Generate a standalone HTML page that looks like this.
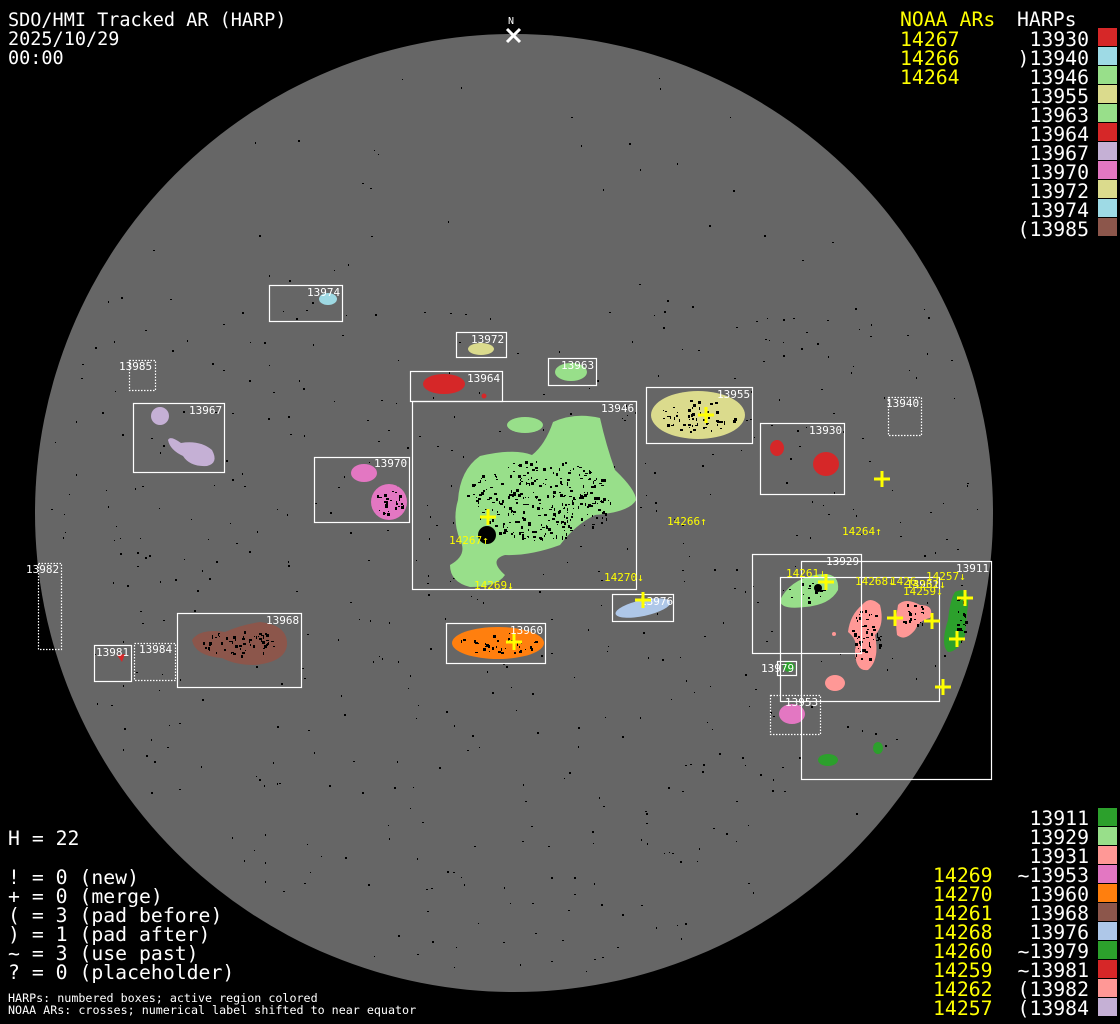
<!DOCTYPE html>
<html><head><meta charset="utf-8"><style>
html,body{margin:0;padding:0;background:#000;width:1120px;height:1024px;overflow:hidden}
svg{display:block}
text{font-family:"DejaVu Sans Mono","Liberation Mono",monospace}
.t{fill:#fff;font-size:18.5px}
.L{fill:#fff;font-size:19.8px}
.y{fill:#ff0;font-size:19.8px}
.b{fill:#fff;font-size:11px}
.s{fill:#fff;font-size:11.7px}
.yl{fill:#ff0;font-size:11px}
.bx{fill:none;stroke:#fff;stroke-width:1.2}
.dt{fill:none;stroke:#fff;stroke-width:1.2;stroke-dasharray:1.5 1.5}
.cr{stroke:#ff0;stroke-width:3;fill:none}
</style></head><body>
<svg id="s" width="1120" height="1024" viewBox="0 0 1120 1024" xmlns="http://www.w3.org/2000/svg">
<rect width="1120" height="1024" fill="#000"/>
<circle cx="514" cy="513" r="479" fill="#666"/>
<g id="spk"></g>
<!-- blobs -->
<ellipse cx="328" cy="299" rx="9" ry="6" fill="#9ed9e3"/>
<ellipse cx="481" cy="349" rx="13" ry="6" fill="#dbdb8d"/>
<ellipse cx="571" cy="372" rx="16" ry="9" fill="#98df8a"/>
<ellipse cx="444" cy="384" rx="21" ry="10" fill="#d62728"/>
<circle cx="484" cy="396" r="2.5" fill="#d62728"/>
<ellipse cx="160" cy="416" rx="9" ry="9" fill="#c5b0d5"/>
<path d="M168,440 Q170,435 181,443 Q200,440 212,450 Q219,463 207,466 Q190,467 183,456 Q170,450 168,440Z" fill="#c5b0d5"/>
<path d="M553,422 Q575,412 600,418 Q606,445 615,470 Q636,490 636,500 Q630,512 595,515 Q575,525 560,545 Q530,556 505,555 Q488,560 505,575 Q497,587 470,587 Q450,582 450,565 Q468,555 460,540 Q452,520 458,500 Q460,470 480,456 Q515,448 532,455 Q545,445 553,422Z" fill="#98df8a"/>
<ellipse cx="525" cy="425" rx="18" ry="8" fill="#98df8a"/>
<circle cx="487" cy="535" r="9" fill="#000"/>
<ellipse cx="698" cy="415" rx="47" ry="24" fill="#dbdb8d"/>
<ellipse cx="777" cy="448" rx="7" ry="8" fill="#d62728"/>
<ellipse cx="826" cy="464" rx="13" ry="12" fill="#d62728"/>
<ellipse cx="364" cy="473" rx="13" ry="9" fill="#e377c2"/>
<ellipse cx="389" cy="502" rx="18" ry="18" fill="#e377c2"/>
<path d="M192,640 Q200,628 225,632 Q240,625 260,622 Q288,625 287,645 Q285,662 255,665 Q235,665 222,658 Q195,656 192,640Z" fill="#8c564b"/>
<path d="M117,655 L125,654 L122,662Z" fill="#d62728"/>
<ellipse cx="498" cy="643" rx="46" ry="16" fill="#ff7f0e"/>
<ellipse cx="643" cy="608" rx="28" ry="8" fill="#aec7e8" transform="rotate(-12 643 608)"/>
<path d="M780,600 Q790,580 815,575 Q840,570 838,590 Q830,605 805,607 Q780,610 780,600Z" fill="#98df8a"/>
<circle cx="818" cy="588" r="4" fill="#000"/>
<path d="M862,605 Q870,595 880,605 Q885,625 875,635 Q880,660 868,670 Q855,672 855,650 Q858,640 848,632 Q850,615 862,605Z" fill="#ff9896"/>
<path d="M898,605 Q905,597 920,605 Q935,605 930,618 Q920,620 915,630 Q905,642 897,635 Q895,620 898,605Z" fill="#ff9896"/>
<ellipse cx="835" cy="683" rx="10" ry="8" fill="#ff9896"/>
<circle cx="834" cy="634" r="2" fill="#ff9896"/>
<path d="M955,592 Q970,585 968,605 Q966,620 965,635 Q958,652 948,652 Q940,645 948,620 Q950,600 955,592Z" fill="#2ca02c"/>
<ellipse cx="792" cy="714" rx="13" ry="10" fill="#e377c2"/>
<ellipse cx="828" cy="760" rx="10" ry="6" fill="#2ca02c"/>
<ellipse cx="878" cy="748" rx="5" ry="6" fill="#2ca02c"/>
<ellipse cx="789" cy="667" rx="6" ry="5" fill="#2ca02c"/>
<g id="spk2"></g>
<!-- boxes -->
<rect class="bx" x="269.5" y="285.5" width="73" height="36"/>
<rect class="bx" x="456.5" y="332.5" width="50" height="25"/>
<rect class="bx" x="548.5" y="358.5" width="48" height="27"/>
<rect class="bx" x="410.5" y="371.5" width="92" height="30"/>
<rect class="dt" x="129.5" y="360.5" width="26" height="30"/>
<rect class="bx" x="133.5" y="403.5" width="91" height="69"/>
<rect class="bx" x="412.5" y="401.5" width="224" height="188"/>
<rect class="bx" x="646.5" y="387.5" width="106" height="56"/>
<rect class="bx" x="760.5" y="423.5" width="84" height="71"/>
<rect class="dt" x="888.5" y="397.5" width="33" height="38"/>
<rect class="bx" x="314.5" y="457.5" width="95" height="65"/>
<rect class="dt" x="38.5" y="563.5" width="23" height="86"/>
<rect class="bx" x="177.5" y="613.5" width="124" height="74"/>
<rect class="bx" x="94.5" y="645.5" width="37" height="36"/>
<rect class="dt" x="134.5" y="643.5" width="41" height="37"/>
<rect class="bx" x="446.5" y="623.5" width="99" height="40"/>
<rect class="bx" x="612.5" y="594.5" width="61" height="27"/>
<rect class="bx" x="752.5" y="554.5" width="109" height="99"/>
<rect class="bx" x="801.5" y="561.5" width="190" height="218"/>
<rect class="bx" x="780.5" y="577.5" width="159" height="124"/>
<rect class="bx" x="777.5" y="661.5" width="19" height="14"/>
<rect class="dt" x="770.5" y="695.5" width="50" height="39"/>
<!-- box labels -->
<g>
<text x="307" y="296" class="b">13974</text>
<text x="471" y="343" class="b">13972</text>
<text x="561" y="369" class="b">13963</text>
<text x="467" y="382" class="b">13964</text>
<text x="119" y="370" class="b">13985</text>
<text x="189" y="414" class="b">13967</text>
<text x="601" y="412" class="b">13946</text>
<text x="717" y="398" class="b">13955</text>
<text x="809" y="434" class="b">13930</text>
<text x="886" y="407" class="b">13940</text>
<text x="374" y="467" class="b">13970</text>
<text x="26" y="573" class="b">13982</text>
<text x="266" y="624" class="b">13968</text>
<text x="96" y="656" class="b">13981</text>
<text x="139" y="653" class="b">13984</text>
<text x="510" y="634" class="b">13960</text>
<text x="640" y="605" class="b">13976</text>
<text x="826" y="565" class="b">13929</text>
<text x="956" y="572" class="b">13911</text>
<text x="906" y="588" class="b">13931</text>
<text x="761" y="672" class="b">13979</text>
<text x="785" y="706" class="b">13953</text>
</g>
<g class="cr" id="crs"></g>
<g>
<text x="667" y="525" class="yl">14266↑</text>
<text x="842" y="535" class="yl">14264↑</text>
<text x="449" y="544" class="yl">14267↑</text>
<text x="474" y="589" class="yl">14269↓</text>
<text x="604" y="581" class="yl">14270↓</text>
<text x="786" y="577" class="yl">14261↓</text>
<text x="855" y="585" class="yl">14268↓</text>
<text x="890" y="585" class="yl">1426</text>
<text x="926" y="580" class="yl">14257↓</text>
<text x="906" y="588" class="yl">14262↓</text>
<text x="903" y="595" class="yl">14259↓</text>
</g>
<text x="508" y="24" class="b" style="font-size:10px">N</text>
<path d="M507,29 L520,42 M520,29 L507,42" stroke="#fff" stroke-width="3"/>
<text x="8" y="26" class="t">SDO/HMI Tracked AR (HARP)</text>
<text x="8" y="45" class="t">2025/10/29</text>
<text x="8" y="64" class="t">00:00</text>
<text x="900" y="26" class="y">NOAA ARs</text>
<text x="1017" y="26" class="L">HARPs</text>
<text x="900" y="46" class="y">14267</text>
<text x="900" y="65" class="y">14266</text>
<text x="900" y="84" class="y">14264</text>
<g id="tr"></g>
<g id="br"></g>
<text x="8" y="845" class="L">H = 22</text>
<text x="8" y="884" class="L">! = 0 (new)</text>
<text x="8" y="903" class="L">+ = 0 (merge)</text>
<text x="8" y="922" class="L">( = 3 (pad before)</text>
<text x="8" y="941" class="L">) = 1 (pad after)</text>
<text x="8" y="960" class="L">~ = 3 (use past)</text>
<text x="8" y="979" class="L">? = 0 (placeholder)</text>
<text x="8" y="1002" class="s">HARPs: numbered boxes; active region colored</text>
<text x="8" y="1014" class="s">NOAA ARs: crosses; numerical label shifted to near equator</text>
</svg>
<script>
(function(){
var NS="http://www.w3.org/2000/svg";
function el(p,tag,a,txt){var e=document.createElementNS(NS,tag);for(var k in a)e.setAttribute(k,a[k]);if(txt!=null)e.textContent=txt;p.appendChild(e);return e;}
var seed=12345;function r(){seed=(seed*1103515245+12345)%2147483648;return seed/2147483648;}
var g=document.getElementById('spk');
for(var i=0;i<900;i++){var x=35+r()*958,y=35+r()*958;var dx=x-514,dy=y-513;if(dx*dx+dy*dy>465*465)continue;
if(y<300&&r()<0.7)continue;
el(g,'rect',{x:x.toFixed(0),y:y.toFixed(0),width:(1+Math.floor(r()*2)),height:(1+Math.floor(r()*2)),fill:'#000'});}
var g2=document.getElementById('spk2');
var regs=[[540,500,75,40,300],[698,415,38,17,60],[240,643,38,13,60],[498,643,38,11,40],[389,502,14,14,25],[866,635,14,28,50],[912,615,14,12,20],[960,620,6,25,20],[810,592,22,10,15]];
regs.forEach(function(q){for(var i=0;i<q[4];i++){var a=r()*6.283,d=Math.sqrt(r());el(g2,'rect',{x:(q[0]+Math.cos(a)*d*q[2]).toFixed(0),y:(q[1]+Math.sin(a)*d*q[3]).toFixed(0),width:1+Math.floor(r()*3),height:1+Math.floor(r()*3),fill:'#000'});}});
var cr=document.getElementById('crs');
[[706,415],[882,479],[488,517],[514,642],[643,600],[826,582],[895,618],[932,621],[965,598],[957,639],[943,687]].forEach(function(p){
el(cr,'path',{d:'M'+(p[0]-8)+','+p[1]+'h16M'+p[0]+','+(p[1]-8)+'v16'});});
var tr=document.getElementById('tr');
var T=[["13930","#d62728"],[")13940","#9edae5"],["13946","#98df8a"],["13955","#dbdb8d"],["13963","#98df8a"],["13964","#d62728"],["13967","#c5b0d5"],["13970","#e377c2"],["13972","#dbdb8d"],["13974","#9edae5"],["(13985","#8c564b"]];
T.forEach(function(t,i){el(tr,'text',{x:1089,y:46+i*19,'class':'L','text-anchor':'end'},t[0]);el(tr,'rect',{x:1098,y:28+i*19,width:19,height:18,fill:t[1]});});
var br=document.getElementById('br');
var B=[["13911","#2ca02c",""],["13929","#98df8a",""],["13931","#ff9896",""],["~13953","#e377c2","14269"],["13960","#ff7f0e","14270"],["13968","#8c564b","14261"],["13976","#aec7e8","14268"],["~13979","#2ca02c","14260"],["~13981","#d62728","14259"],["(13982","#ff9896","14262"],["(13984","#c5b0d5","14257"]];
B.forEach(function(t,i){var y=825+i*19;el(br,'text',{x:1089,y:y,'class':'L','text-anchor':'end'},t[0]);el(br,'rect',{x:1098,y:y-17,width:19,height:18,fill:t[1]});if(t[2])el(br,'text',{x:933,y:y,'class':'y'},t[2]);});
})();
</script>
</body></html>
